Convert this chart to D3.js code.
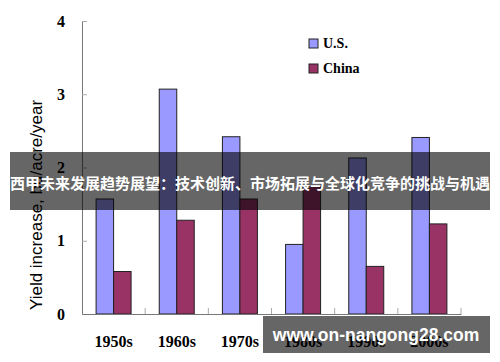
<!DOCTYPE html>
<html>
<head>
<meta charset="utf-8">
<script src="https://d3js.org/d3.v7.min.js"></script>
<style>
  body { margin: 0; background: #fff; }
  svg { display: block; }
</style>
</head>
<body>
<div id="chart"></div>
<script>
var decades = ["1950s", "1960s", "1970s", "1980s", "1990s", "2000s"];
var usValues = [1.57, 3.07, 2.42, 0.95, 2.13, 2.41];
var chinaValues = [0.58, 1.28, 1.57, 1.74, 0.65, 1.23];
var seriesNames = ["U.S.", "China"];
var seriesColors = ["#9999FF", "#993366"];
var yTicks = [0, 1, 2, 3, 4];
var bannerText = "西甲未来发展趋势展望：技术创新、市场拓展与全球化竞争的挑战与机遇";
var siteText = "www.on-nangong28.com";

var width = 500, height = 362;
var plotLeft = 82, plotRight = 461, plotTop = 21, plotBottom = 314;

var svg = d3.select("#chart").append("svg")
    .attr("width", width)
    .attr("height", height);

var x0 = d3.scaleBand()
    .domain(decades)
    .range([plotLeft, plotRight])
    .paddingInner(0.446)
    .paddingOuter(0.223);

var x1 = d3.scaleBand()
    .domain(seriesNames)
    .range([0, x0.bandwidth()]);

var y = d3.scaleLinear()
    .domain([0, 4])
    .range([plotBottom, plotTop]);

var rows = decades.map(function(d, i) {
    return { decade: d, values: [usValues[i], chinaValues[i]] };
});

// bars
var groups = svg.selectAll(".grp")
    .data(rows)
    .enter().append("g")
    .attr("class", "grp")
    .attr("transform", function(d) { return "translate(" + x0(d.decade) + ",0)"; });

groups.selectAll("rect")
    .data(function(d) { return d.values.map(function(v, j) { return { name: seriesNames[j], value: v, j: j }; }); })
    .enter().append("rect")
    .attr("x", function(d) { return x1(d.name); })
    .attr("y", function(d) { return y(d.value); })
    .attr("width", x1.bandwidth())
    .attr("height", function(d) { return plotBottom - y(d.value); })
    .attr("fill", function(d) { return seriesColors[d.j]; })
    .attr("stroke", "#222")
    .attr("stroke-width", 1);

// y axis
var yAxis = d3.axisLeft(y).tickValues(yTicks).tickSize(-5).tickPadding(17).tickFormat(d3.format("d"));
var gy = svg.append("g")
    .attr("transform", "translate(" + plotLeft + ",0)")
    .call(yAxis);
gy.select(".domain").attr("stroke", "#777");
gy.selectAll(".tick line").attr("stroke", "#aaa");
gy.selectAll(".tick text")
    .attr("font-family", "'Liberation Serif', 'Times New Roman', serif")
    .attr("font-weight", "bold")
    .attr("font-size", 16)
    .attr("fill", "#000");

// x axis
var xAxis = d3.axisBottom(x0).tickSize(0).tickPadding(22);
var gx = svg.append("g")
    .attr("transform", "translate(0," + plotBottom + ")")
    .call(xAxis);
gx.select(".domain").attr("stroke", "#777");
gx.selectAll(".tick text")
    .attr("font-family", "'Liberation Serif', 'Times New Roman', serif")
    .attr("font-weight", "bold")
    .attr("font-size", 16)
    .attr("fill", "#000");

// category separators
var step = x0.step();
svg.append("g").selectAll("line")
    .data(decades)
    .enter().append("line")
    .attr("x1", function(d) { return x0(d) - x0.paddingOuter() * step + step; })
    .attr("x2", function(d) { return x0(d) - x0.paddingOuter() * step + step; })
    .attr("y1", plotBottom)
    .attr("y2", plotBottom - 6)
    .attr("stroke", "#aaa");

// y label
svg.append("text")
    .attr("transform", "translate(36,205) rotate(-90)")
    .attr("text-anchor", "middle")
    .attr("dominant-baseline", "central")
    .attr("font-family", "'Liberation Sans', Arial, sans-serif")
    .attr("font-size", 17)
    .text("Yield increase, bu/acre/year");

// legend
var legend = svg.append("g").selectAll("g")
    .data(seriesNames)
    .enter().append("g")
    .attr("transform", function(d, i) { return "translate(309," + (39 + i * 25) + ")"; });
legend.append("rect")
    .attr("width", 9)
    .attr("height", 9)
    .attr("fill", function(d, i) { return seriesColors[i]; })
    .attr("stroke", "#222");
legend.append("text")
    .attr("x", 14)
    .attr("y", 9)
    .attr("font-family", "'Liberation Serif', 'Times New Roman', serif")
    .attr("font-weight", "bold")
    .attr("font-size", 14)
    .text(function(d) { return d; });

// overlays
svg.append("rect")
    .attr("x", 10).attr("y", 152)
    .attr("width", 480).attr("height", 58)
    .attr("fill", "rgba(0,0,0,0.6)");
svg.append("text")
    .attr("x", 250).attr("y", 182)
    .attr("text-anchor", "middle")
    .attr("dominant-baseline", "central")
    .attr("font-family", "'Noto Sans CJK SC', sans-serif")
    .attr("font-weight", "bold")
    .attr("font-size", 15)
    .attr("fill", "#fff")
    .text(bannerText);

svg.append("rect")
    .attr("x", 263).attr("y", 316)
    .attr("width", 227).attr("height", 37)
    .attr("fill", "rgba(0,0,0,0.6)");
svg.append("text")
    .attr("x", 376).attr("y", 335)
    .attr("text-anchor", "middle")
    .attr("dominant-baseline", "central")
    .attr("font-family", "'Liberation Sans', Arial, sans-serif")
    .attr("font-weight", "bold")
    .attr("font-size", 17.5)
    .attr("fill", "#fff")
    .text(siteText);
</script>
</body>
</html>
